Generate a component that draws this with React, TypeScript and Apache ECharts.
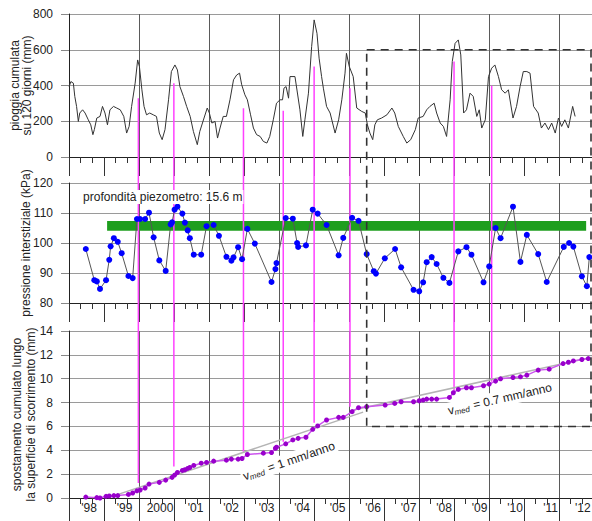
import React, { useEffect, useRef } from 'react';
import * as echarts from 'echarts';

const FONT = "'Liberation Sans', Arial, Helvetica, sans-serif";

// x extent of the plot, decimal years
const X_MIN = 1997.937;
const X_MAX = 2012.665;
const TICK_STEP = 360 / 365.25; // ticks every 360 days
const GRID_STEP = 720 / 365.25; // vertical grid every 720 days

const labelYears = [1998, 1999, 2000, 2001, 2002, 2003, 2004, 2005, 2006, 2007, 2008, 2009, 2010, 2011, 2012];
const yearLabels = ["'98", "'99", '2000', "'01", "'02", "'03", "'04", "'05", "'06", "'07", "'08", "'09", "'10", "'11", "'12"];

// 120-day cumulative rainfall (mm)
const rainT = [1997.94,1997.99,1998.06,1998.10,1998.15,1998.20,1998.24,1998.32,1998.39,1998.48,1998.55,1998.61,1998.65,1998.72,1998.81,1998.88,1998.95,1999.02,1999.09,1999.19,1999.28,1999.38,1999.48,1999.56,1999.63,1999.70,1999.80,1999.87,1999.92,1999.99,2000.05,2000.12,2000.21,2000.31,2000.40,2000.48,2000.56,2000.64,2000.74,2000.82,2000.92,2000.99,2001.06,2001.16,2001.25,2001.35,2001.44,2001.55,2001.62,2001.74,2001.83,2001.89,2001.96,2002.05,2002.12,2002.19,2002.28,2002.37,2002.47,2002.57,2002.66,2002.74,2002.80,2002.89,2002.96,2003.05,2003.13,2003.22,2003.32,2003.41,2003.51,2003.59,2003.69,2003.78,2003.88,2003.95,2003.99,2004.05,2004.12,
  2004.16,2004.30,2004.44,2004.52,2004.58,2004.68,2004.77,2004.84,2004.92,2004.98,2005.05,2005.10,2005.19,2005.29,2005.43,2005.53,2005.62,2005.71,2005.75,2005.83,2005.94,2006.04,2006.18,2006.28,2006.34,2006.41,2006.49,2006.55,2006.62,2006.74,2006.89,2007.03,2007.11,2007.21,2007.35,2007.45,2007.56,2007.69,2007.77,2007.91,2008.01,2008.10,2008.22,2008.29,2008.39,2008.48,2008.57,2008.67,2008.73,2008.81,2008.90,2008.97,2009.05,2009.13,2009.23,2009.32,2009.42,2009.49,2009.56,2009.66,2009.75,2009.84,2009.93,2010.03,2010.12,2010.22,2010.31,2010.44,2010.54,2010.64,2010.73,2010.83,2010.92,2011.02,2011.15,2011.24,2011.34,2011.44,2011.53,2011.63,2011.72,2011.81,2011.90,2012.00,2012.12,2012.19];
const rainMm = [394,422,413,339,283,199,246,264,246,208,180,125,153,218,227,283,246,180,264,283,274,264,227,134,171,283,413,543,506,376,283,236,246,236,227,134,97,153,320,478,515,487,394,339,283,227,143,69,143,218,274,246,190,199,106,162,227,227,320,432,459,469,404,348,320,236,162,125,115,87,78,115,208,301,320,320,385,394,329,
  450,450,264,115,208,357,618,767,692,553,450,385,283,246,134,208,320,469,580,506,450,274,255,246,180,134,97,180,208,218,236,274,246,171,115,78,97,153,218,227,264,283,301,246,190,171,115,320,534,636,655,571,246,264,357,339,227,264,162,208,450,497,515,450,376,357,376,218,283,394,478,478,469,283,246,162,190,153,190,134,218,171,208,162,283,227];

// pore pressure (kPa)
const presT = [1998.41,1998.65,1998.72,1998.81,1998.98,1999.07,1999.11,1999.20,1999.31,1999.42,1999.61,1999.73,1999.85,1999.94,2000.08,2000.19,2000.32,2000.48,2000.66,2000.80,2000.84,2000.91,2000.99,2001.13,2001.20,2001.28,2001.34,2001.45,2001.66,2001.81,2002.01,2002.16,2002.37,2002.51,2002.57,2002.70,2002.81,2002.96,2003.17,2003.64,2003.75,2003.78,2004.04,2004.24,2004.36,2004.39,2004.61,2004.80,2004.94,2005.19,2005.53,2005.66,2005.91,2006.09,2006.32,2006.52,2006.58,2006.83,2007.12,2007.29,2007.64,2007.80,2007.91,2008.01,2008.15,2008.29,2008.48,2008.65,2008.90,2009.13,2009.27,2009.61,2009.77,2009.95,2010.09,2010.44,2010.65,2010.83,2011.15,2011.39,2011.87,2012.02,2012.14,2012.38,2012.52,2012.59];
const presKPa = [98.0,87.6,87.2,84.7,87.6,94.4,98.9,101.6,100.4,96.6,89.0,88.3,108.0,108.0,108.0,110.1,101.9,94.2,90.7,106.2,106.9,111.1,112.1,109.8,106.8,104.2,101.6,96.1,96.1,105.6,106.0,102.4,95.4,94.1,95.2,98.6,94.6,104.7,99.8,87.0,91.3,93.3,108.3,108.1,100.0,98.7,99.2,111.1,109.8,106.0,95.9,101.7,108.4,107.4,96.3,90.6,89.8,94.9,98.0,91.9,84.4,83.9,86.9,93.6,95.3,93.0,88.4,86.7,97.2,98.6,96.1,86.9,92.2,105.0,101.6,112.1,93.7,102.7,96.3,87.0,98.7,100.0,98.8,88.9,85.6,95.3];

// cumulative displacement along the sliding surface (mm)
const dispT = [1998.41,1998.72,1998.81,1998.98,1999.07,1999.20,1999.31,1999.61,1999.73,1999.85,1999.94,2000.08,2000.19,2000.48,2000.66,2000.84,2000.91,2000.99,2001.13,2001.20,2001.28,2001.34,2001.45,2001.66,2001.81,2002.01,2002.37,2002.51,2002.70,2002.81,2002.96,2003.41,2003.64,2003.75,2003.78,2004.04,2004.24,2004.39,2004.61,2004.80,2004.94,2005.19,2005.53,2005.66,2005.91,2006.09,2006.32,2006.84,2007.11,2007.29,2007.64,2007.80,2007.91,2008.01,2008.15,2008.29,2008.65,2008.76,2008.90,2009.13,2009.27,2009.61,2009.77,2009.95,2010.09,2010.44,2010.65,2010.83,2011.15,2011.46,2011.85,2012.00,2012.14,2012.38,2012.56];
const dispMm = [0.08,0.03,0.0,0.14,0.17,0.2,0.2,0.3,0.42,0.6,0.67,0.84,1.17,1.31,1.5,1.73,1.92,2.14,2.31,2.37,2.48,2.56,2.73,2.92,2.98,3.09,3.17,3.26,3.26,3.31,3.65,3.76,3.81,4.17,4.26,4.54,4.87,5.0,5.09,5.76,6.04,6.54,6.76,6.76,7.24,7.57,7.65,7.79,7.93,8.07,8.07,8.15,8.21,8.29,8.29,8.29,8.43,8.82,9.1,9.24,9.24,9.41,9.55,9.8,9.99,10.1,10.16,10.3,10.72,10.8,11.27,11.38,11.49,11.61,11.69];

// mean-velocity trend lines
const trendFastT = [1999.07, 2006.22];
const trendFastMm = [0.05, 7.2];
const trendSlowT = [2005.92, 2012.66];
const trendSlowMm = [7.35, 11.8];

// rainfall events (magenta markers): date, rain level where marker starts, displacement where it ends
const eventT = [1999.89, 2000.89, 2002.85, 2003.97, 2004.84, 2005.85, 2008.78, 2009.84];
const eventRainMm = [329, 413, 273, 259, 506, 385, 534, 398];
const eventDispMm = [1.25, 2.64, 3.88, 4.72, 6.3, 7.65, 8.91, 9.75];

// threshold band for pore pressure
const bandT = [1999.01, 2012.5];
const bandKPa = [104.1, 107.3];

// dashed box (from rainfall 600 mm down to displacement 6 mm)
const boxT = [2006.32, 2012.637];
const boxRainMm = 600;
const boxDispMm = 6;

const zip = (a: number[], b: number[]) => a.map((x, i) => [x, b[i]]);

const axisText = { fontSize: 12, color: '#222', fontFamily: FONT };

// label positions: mid-year, the last one kept inside the plot edge
const labelPos = labelYears.map((y) => Math.min(y + 0.5, X_MAX - 0.26));

function xPair(g: number, tickLen: number, withLabels: boolean) {
  return [
    {
      gridIndex: g,
      type: 'value',
      min: X_MIN,
      max: X_MAX,
      interval: TICK_STEP,
      axisLine: { show: true, onZero: false, lineStyle: { color: '#222', width: 1 } },
      axisTick: { show: true, length: tickLen, lineStyle: { color: '#333', width: 1 } },
      minorTick: { show: true, splitNumber: 3, length: 6, lineStyle: { color: '#333', width: 1 } },
      splitLine: { show: false },
      minorSplitLine: { show: false },
      axisLabel: withLabels
        ? {
            show: true,
            ...axisText,
            margin: 4,
            customValues: labelPos,
            formatter: (v: number) => {
              const i = labelYears.indexOf(Math.floor(v));
              return i >= 0 ? yearLabels[i] : '';
            },
          }
        : { show: false },
    },
    {
      gridIndex: g,
      type: 'value',
      min: X_MIN,
      max: X_MAX,
      interval: GRID_STEP,
      position: 'bottom',
      axisLine: { show: false },
      axisTick: { show: false },
      axisLabel: { show: false },
      splitLine: { show: true, lineStyle: { color: '#5a5a5a', width: 1 } },
    },
  ];
}

function yAx(g: number, min: number, max: number, interval: number, name: string, nameGap: number, lineHeight: number) {
  return {
    gridIndex: g,
    type: 'value',
    min,
    max,
    interval,
    name,
    nameLocation: 'middle',
    nameRotate: 90,
    nameGap,
    nameMoveOverlap: false,
    nameTextStyle: { ...axisText, lineHeight },
    axisLine: { show: true, onZero: false, lineStyle: { color: '#222', width: 1 } },
    axisTick: { show: true, length: 8, lineStyle: { color: '#888' } },
    axisLabel: { ...axisText, margin: 16 },
    splitLine: { show: true, lineStyle: { color: '#9a9a9a', width: 1 } },
  };
}

const gridBase = { left: 69, right: 0, containLabel: false, outerBoundsMode: 'none' };

export default function App() {
  const ref = useRef<HTMLDivElement>(null);
  useEffect(() => {
    if (!ref.current) return;
    const chart = echarts.init(ref.current, undefined, { renderer: 'svg' });
    const option: any = {
      animation: false,
      backgroundColor: '#fff',
      grid: [
        { ...gridBase, top: 14, height: 143 },
        { ...gridBase, top: 183, height: 120 },
        { ...gridBase, top: 331, height: 167 },
      ],
      xAxis: [...xPair(0, 19, false), ...xPair(1, 19, false), ...xPair(2, 24, true)],
      yAxis: [
        yAx(0, 0, 800, 200, 'pioggia cumulata\nsu 120 giorni (mm)', 36, 12),
        yAx(1, 80, 120, 10, 'pressione interstiziale (kPa)', 37, 12),
        yAx(2, 0, 14, 2, 'spostamento cumulato lungo\nla superficie di scorrimento (mm)', 31, 14),
      ],
      series: [
        {
          type: 'line',
          xAxisIndex: 0,
          yAxisIndex: 0,
          data: zip(rainT, rainMm),
          symbol: 'none',
          lineStyle: { color: '#333', width: 1 },
          z: 3,
        },
        {
          type: 'line',
          xAxisIndex: 2,
          yAxisIndex: 1,
          data: zip(presT, presKPa),
          symbol: 'circle',
          symbolSize: 6,
          itemStyle: { color: '#0000ff' },
          lineStyle: { color: '#555', width: 1 },
          z: 3,
          markArea: {
            silent: true,
            itemStyle: { color: '#1e9e1e' },
            data: [[{ coord: [bandT[0], bandKPa[0]] }, { coord: [bandT[1], bandKPa[1]] }]],
          },
        },
        {
          type: 'line',
          xAxisIndex: 4,
          yAxisIndex: 2,
          data: zip(trendFastT, trendFastMm),
          symbol: 'none',
          lineStyle: { color: '#b4b4b4', width: 1.5 },
          z: 2,
        },
        {
          type: 'line',
          xAxisIndex: 4,
          yAxisIndex: 2,
          data: zip(trendSlowT, trendSlowMm),
          symbol: 'none',
          lineStyle: { color: '#b4b4b4', width: 1.5 },
          z: 2,
        },
        {
          type: 'line',
          xAxisIndex: 4,
          yAxisIndex: 2,
          data: zip(dispT, dispMm),
          symbol: 'circle',
          symbolSize: 5,
          itemStyle: { color: '#9900cc' },
          lineStyle: { color: '#cc55ee', width: 1.5 },
          z: 4,
        },
      ],
    };
    chart.setOption(option);

    const P = (gi: number, t: number, v: number) =>
      chart.convertToPixel({ xAxisIndex: gi * 2, yAxisIndex: gi }, [t, v]) as number[];

    const elements: any[] = [];
    eventT.forEach((t, i) => {
      const a = P(0, t, eventRainMm[i]);
      const b = P(2, t, eventDispMm[i]);
      elements.push({
        type: 'line',
        z: 1,
        silent: true,
        shape: { x1: a[0], y1: a[1], x2: b[0], y2: b[1] },
        style: { stroke: '#ff40ff', lineWidth: 1.5 },
      });
    });
    const tl = P(0, boxT[0], boxRainMm);
    const tr = P(0, boxT[1], boxRainMm);
    const br = P(2, boxT[1], boxDispMm);
    const bl = P(2, boxT[0], boxDispMm);
    elements.push({
      type: 'polyline',
      z: 10,
      silent: true,
      shape: { points: [tl, tr, br, bl, tl] },
      style: { stroke: '#333', lineWidth: 1.6, lineDash: [8, 6], fill: null },
    });

    const pz = P(1, 1998.305, 115.3);
    elements.push({
      type: 'text',
      z: 10,
      x: pz[0],
      y: pz[1],
      style: {
        text: 'profondità piezometro: 15.6 m',
        fontSize: 12,
        fontFamily: FONT,
        fill: '#222',
        align: 'left',
        verticalAlign: 'middle',
        backgroundColor: '#fff',
        padding: [1, 1],
      },
    });

    const vLabel = (t: number, v: number, deg: number, txt: string) => {
      const p = P(2, t, v);
      elements.push({
        type: 'text',
        z: 10,
        x: p[0],
        y: p[1],
        rotation: (deg * Math.PI) / 180,
        style: {
          text: '{a|v}{b|med}{a|' + txt + '}',
          rich: {
            a: { fontSize: 12, fontFamily: FONT, fill: '#222', color: '#222' },
            b: { fontSize: 8, fontFamily: FONT, fill: '#222', color: '#222', fontStyle: 'italic', padding: [6, 1, 0, 0] },
          },
          align: 'center',
          verticalAlign: 'middle',
          backgroundColor: '#fff',
          padding: [1, 2],
        },
      });
    };
    vLabel(2004.13, 3.1, 19, ' = 1 mm/anno');
    vLabel(2010.07, 8.3, 13, ' = 0.7 mm/anno');

    chart.setOption({ graphic: { elements } });

    return () => chart.dispose();
  }, []);
  return (
    <div
      ref={ref}
      style={{ position: 'fixed', left: 0, top: 0, width: 592, height: 521, background: '#fff' }}
    />
  );
}
